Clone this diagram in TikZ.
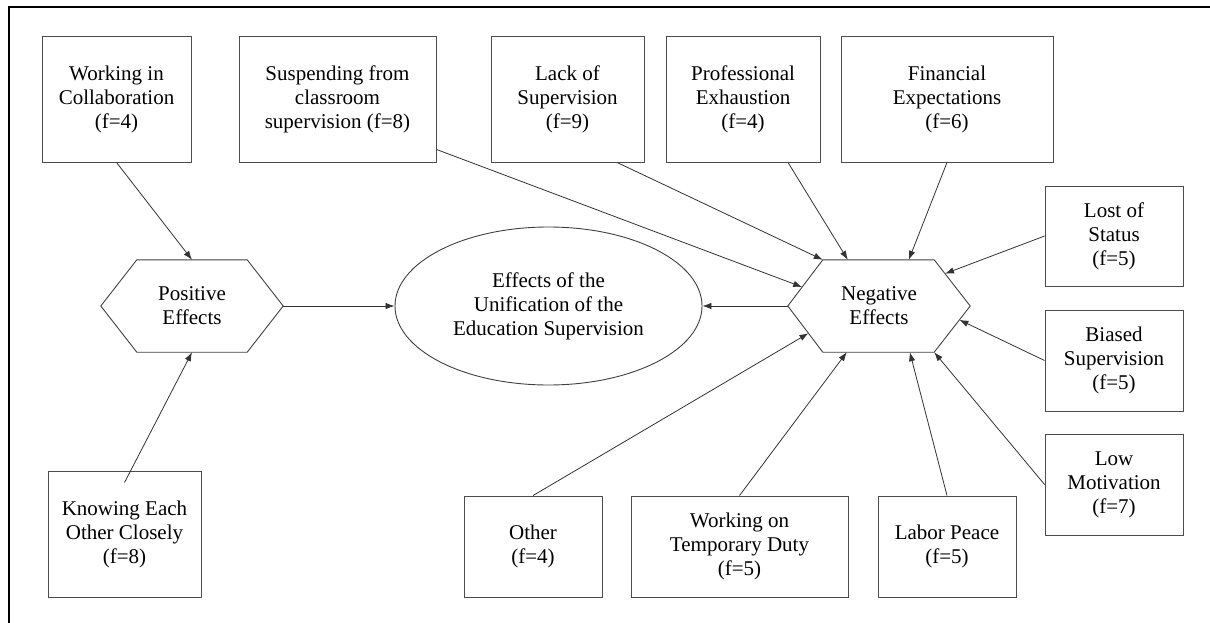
\documentclass[tikz,border=0pt]{standalone}
\usepackage{fontspec}
\setmainfont{Liberation Serif}
\usetikzlibrary{arrows.meta,calc,shapes.geometric}
\begin{document}
\begin{tikzpicture}[x=1pt,y=-1pt,
  txt/.style={align=center, inner sep=0pt, font=\fontsize{21}{24}\selectfont},
  box/.style={txt, draw=black!70, line width=0.9pt},
  hexlabel/.style={txt, minimum width=182pt, minimum height=92pt},
  hexline/.style={draw=black!75, line width=0.9pt},
  conn/.style={draw=black!80, line width=0.8pt, -{Latex[length=9pt,width=6.5pt]}}]
\useasboundingbox (0,0) rectangle (1210,623);
\draw[line width=2.5pt] (9,623) -- (9,7) -- (1210,7);

% top boxes
\node[box, minimum width=149pt, minimum height=126pt] (collab) at (116.5,99) {Working in\\Collaboration\\(f=4)};
\node[box, minimum width=197pt, minimum height=126pt] (susp) at (337.5,99) {Suspending from\\classroom\\supervision (f=8)};
\node[box, minimum width=153pt, minimum height=126pt] (lack) at (567.5,99) {Lack of\\Supervision\\(f=9)};
\node[box, minimum width=154pt, minimum height=126pt] (prof) at (743,99) {Professional\\Exhaustion\\(f=4)};
\node[box, minimum width=212pt, minimum height=126pt] (fin) at (947,99) {Financial\\Expectations\\(f=6)};
% right boxes
\node[box, minimum width=138pt, minimum height=100pt] (lost) at (1114,236) {Lost of\\Status\\(f=5)};
\node[box, minimum width=138pt, minimum height=101pt] (biased) at (1114,360.5) {Biased\\Supervision\\(f=5)};
\node[box, minimum width=138pt, minimum height=101pt] (low) at (1114,484.5) {Low\\Motivation\\(f=7)};
% bottom boxes
\node[box, minimum width=138pt, minimum height=101pt] (labor) at (947,546.5) {Labor Peace\\(f=5)};
\node[box, minimum width=217pt, minimum height=101pt] (temp) at (739.5,546.5) {Working on\\Temporary Duty\\(f=5)};
\node[box, minimum width=138pt, minimum height=101pt] (other) at (533,546.5) {Other\\(f=4)};
\node[box, minimum width=153pt, minimum height=126pt] (know) at (124.5,534) {Knowing Each\\Other Closely\\(f=8)};

% central ellipse
\node[txt, ellipse, draw=black!75, line width=0.9pt, minimum width=307pt, minimum height=158pt] (ell) at (548.5,306) {Effects of the\\Unification of the\\Education Supervision};

% positive hexagon
\node[hexlabel] (pos) at (192,306) {Positive\\Effects};
\draw[hexline] (pos.west) -- ($(pos.north west)+(36,0)$) -- ($(pos.north east)+(-36,0)$) -- (pos.east) -- ($(pos.south east)+(-36,0)$) -- ($(pos.south west)+(36,0)$) -- cycle;

% negative hexagon
\node[hexlabel] (neg) at (879,306) {Negative\\Effects};
\coordinate (nL) at (neg.west);
\coordinate (nTL) at ($(neg.north west)+(35,0)$);
\coordinate (nTR) at ($(neg.north east)+(-36,0)$);
\coordinate (nR) at (neg.east);
\coordinate (nBR) at ($(neg.south east)+(-36,0)$);
\coordinate (nBL) at ($(neg.south west)+(35,0)$);
\draw[hexline] (nL) -- (nTL) -- (nTR) -- (nR) -- (nBR) -- (nBL) -- cycle;

% connectors to positive
\coordinate (knowstart) at ($(know.north)+(0,12)$);
\draw[conn] (collab.south) -- (pos.north);
\draw[conn] (knowstart) -- (pos.south);
\draw[conn] (pos.east) -- (ell.west);
\draw[conn] (nL) -- (ell.east);

% connectors to negative
\coordinate (suspstart) at ($(susp.south east)+(0,-13)$);
\coordinate (lackstart) at ($(lack.south)+(49.5,0)$);
\coordinate (profstart) at ($(prof.south)+(45,0)$);
\draw[conn] (suspstart) -- ($(nL)!0.41!(nTL)$);
\draw[conn] (lackstart) -- (nTL);
\draw[conn] (profstart) -- ($(neg.north west)+(60,0)$);
\draw[conn] (fin.south) -- ($(neg.north west)+(121,0)$);
\draw[conn] (lost.west) -- ($(nTR)!0.3!(nR)$);
\draw[conn] (biased.west) -- ($(nR)!0.3!(nBR)$);
\draw[conn] (low.west) -- (nBR);
\draw[conn] (labor.north) -- ($(neg.south west)+(122,0)$);
\draw[conn] (temp.north) -- ($(neg.south west)+(59,0)$);
\draw[conn] (other.north) -- ($(nL)!0.59!(nBL)$);
\end{tikzpicture}
\end{document}
